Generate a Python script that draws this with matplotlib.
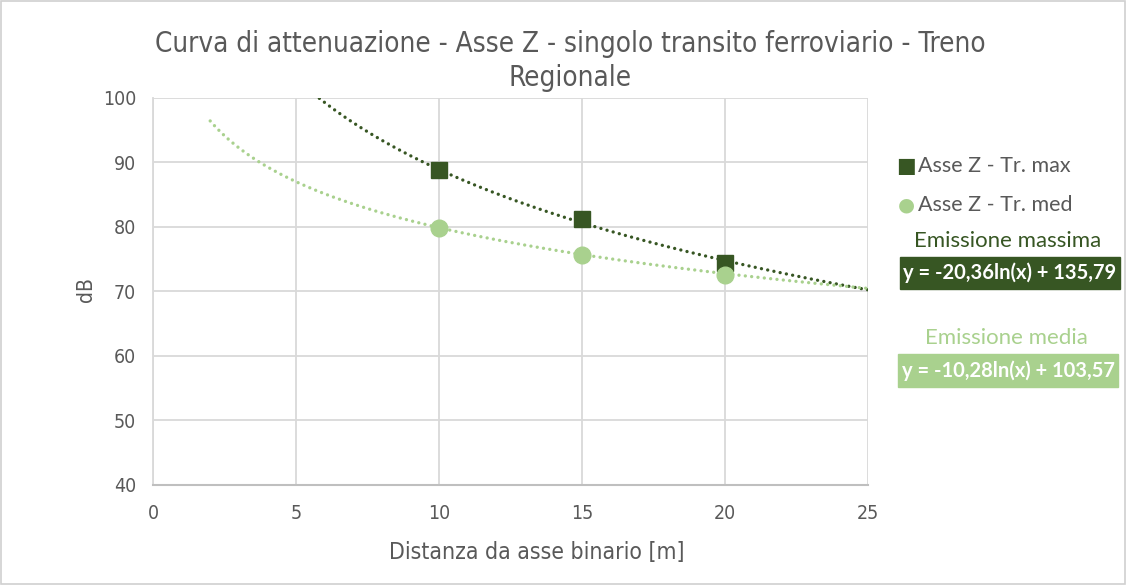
import numpy as np
import matplotlib
matplotlib.use("Agg")
import matplotlib.pyplot as plt
from matplotlib.patches import Rectangle
from matplotlib import font_manager

# Measured levels at three distances from the track axis
distances = [10, 15, 20]
level_max = [88.8, 81.2, 74.4]
level_med = [79.9, 75.7, 72.6]

# Logarithmic trend coefficients: y = a*ln(x) + b
trend_max = (-20.36, 135.79)
trend_med = (-10.28, 103.57)
trend_range = (2, 25)

x_ticks = [0, 5, 10, 15, 20, 25]
y_ticks = [40, 50, 60, 70, 80, 90, 100]

dark = "#375623"
light = "#A9D18E"
grey_text = "#595959"
grid_col = "#D9D9D9"

names = {f.name for f in font_manager.fontManager.ttflist}
body = "Lato" if "Lato" in names else "DejaVu Sans"
narrow = dict(family="DejaVu Sans", stretch="condensed")

fig = plt.figure(figsize=(11.26, 5.86), dpi=100)
ax = fig.add_axes([153 / 1126, 1 - 485 / 586, (868 - 153) / 1126, (485 - 98) / 586])

# Trend curves
xs = np.linspace(trend_range[0], trend_range[1], 400)
for (a, b), col in ((trend_max, dark), (trend_med, light)):
    ax.plot(xs, a * np.log(xs) + b, color=col, lw=2.4,
            linestyle=(0, (0.01, 1.9)), dash_capstyle="round", zorder=3)

ax.plot(distances, level_max, linestyle="none", marker="s", ms=11,
        color=dark, mec=dark, zorder=4)
ax.plot(distances, level_med, linestyle="none", marker="o", ms=12,
        color=light, mec=light, zorder=4)

ax.set_xlim(0, 25)
ax.set_ylim(40, 100)
ax.set_xticks(x_ticks)
ax.set_yticks(y_ticks)
ax.grid(True, color=grid_col, lw=1.3)
ax.set_axisbelow(True)
for s in ax.spines.values():
    s.set_visible(False)
ax.spines["left"].set_visible(True)
ax.spines["left"].set_color(grid_col)
ax.spines["left"].set_linewidth(1.3)
ax.spines["bottom"].set_visible(True)
ax.spines["bottom"].set_color("#BFBFBF")
ax.spines["bottom"].set_linewidth(1.5)
ax.tick_params(length=0, labelsize=14, labelcolor=grey_text, pad=12)
for lab in ax.get_xticklabels() + ax.get_yticklabels():
    lab.set_fontfamily("DejaVu Sans")
    lab.set_fontstretch("condensed")
ax.tick_params(axis="x", pad=14)

fig.text(537 / 1126, 1 - 553 / 586, "Distanza da asse binario [m]",
         ha="center", va="center", fontsize=16.5, color=grey_text, **narrow)
fig.text(86 / 1126, 1 - 290 / 586, "dB", ha="center", va="center",
         rotation=90, fontsize=15, color=grey_text, **narrow)
fig.text(570 / 1126, 1 - 61 / 586,
         "Curva di attenuazione - Asse Z - singolo transito ferroviario - Treno\nRegionale",
         ha="center", va="center", fontsize=20, color=grey_text,
         linespacing=1.25, **narrow)

# Legend
fig.text(906 / 1126, 1 - 166 / 586, "\u25A0", ha="center", va="center",
         fontsize=15, color=dark, family="DejaVu Sans")
fig.text(918 / 1126, 1 - 166 / 586, "Asse Z - Tr. max", ha="left", va="center",
         fontsize=15.5, color=grey_text, family=body)
fig.text(906 / 1126, 1 - 205 / 586, "\u25CF", ha="center", va="center",
         fontsize=14, color=light, family="DejaVu Sans")
fig.text(918 / 1126, 1 - 205 / 586, "Asse Z - Tr. med", ha="left", va="center",
         fontsize=15.5, color=grey_text, family=body)


def fmt(v):
    return f"{abs(v):.2f}".replace(".", ",")


def equation(a, b):
    sign = "-" if a < 0 else ""
    return f"y = {sign}{fmt(a)}ln(x) + {fmt(b)}"


fig.text(1008 / 1126, 1 - 241 / 586, "Emissione massima", ha="center", va="center",
         fontsize=16, color=dark, family=body)
fig.patches.append(Rectangle((900 / 1126, 1 - 289 / 586), 220 / 1126, 32 / 586,
                             transform=fig.transFigure, color=dark, zorder=1))
fig.text(1010 / 1126, 1 - 273 / 586, equation(*trend_max), ha="center", va="center",
         fontsize=14.5, color="white", weight="bold", family=body, zorder=2)

fig.text(1006 / 1126, 1 - 338 / 586, "Emissione media", ha="center", va="center",
         fontsize=16, color=light, family=body)
fig.patches.append(Rectangle((898 / 1126, 1 - 387 / 586), 220 / 1126, 33 / 586,
                             transform=fig.transFigure, color=light, zorder=1))
fig.text(1008 / 1126, 1 - 371 / 586, equation(*trend_med), ha="center", va="center",
         fontsize=14.5, color="white", weight="bold", family=body, zorder=2)

# Chart frame
fig.patches.append(Rectangle((0.001, 0.003), 0.998, 0.996, transform=fig.transFigure,
                             fill=False, ec="#D0D0D0", lw=1.2))

fig.savefig("out.png", dpi=100)
